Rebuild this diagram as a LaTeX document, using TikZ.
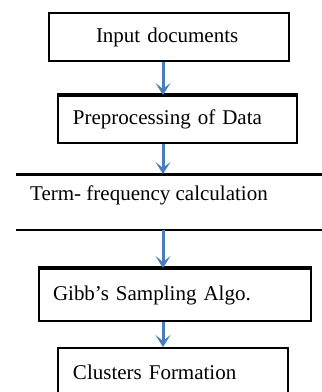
\documentclass[tikz,border=0pt]{standalone}
\usepackage{fontspec}
\setmainfont{Liberation Serif}
\usetikzlibrary{arrows.meta}
\definecolor{flowblue}{HTML}{4A7EBB}
\begin{document}
\begin{tikzpicture}[x=1pt,y=-1pt,
        every node/.style={font=\fontsize{21}{25}\selectfont},
        stage/.style={draw,line width=2pt,align=left,text height=14pt,text depth=4pt},
        flow/.style={draw=flowblue,line width=3pt,
          -{Stealth[length=12pt,width=15pt,inset=6pt]}}]
      \useasboundingbox (0,0) rectangle (322,392);
      \coordinate (ax) at (163,0);                 % arrow column
      \node[stage,anchor=north west,minimum height=48pt,inner xsep=47pt,text width=146pt]
        (input) at (48,12) {Input documents};
      \node[stage,anchor=north west,minimum height=47pt,inner xsep=15pt,text width=209pt]
        (prep) at (57,95) {Preprocessing of Data};
      \draw[line width=3.5pt] (prep.north west) -- (prep.north east);
      % term-frequency band
      \coordinate (tfA) at (16,174);
      \coordinate (tfB) at (322,174);
      \coordinate (tfC) at (16,230);
      \coordinate (tfD) at (322,230);
      \draw[line width=3pt] (tfA) -- (tfB);
      \draw[line width=2pt] (tfC) -- (tfD);
      \node[anchor=base west,inner sep=0pt] (tf) at (30,200) {Term- frequency calculation};
      \node[stage,anchor=north west,minimum height=52pt,inner xsep=14pt,text width=244pt]
        (gibbs) at (38,268) {Gibb's Sampling Algo.};
      \draw[line width=3.5pt] (gibbs.north west) -- (gibbs.north east);
      \node[stage,anchor=north west,minimum height=52pt,inner xsep=15pt,text width=200pt,
        text height=20pt,text depth=10pt] (clusters) at (57,347) {Clusters Formation};
      % arrows
      \draw[flow] (input.south -| ax) -- (prep.north -| ax);
      \draw[flow] (prep.south -| ax) -- (tfA -| ax);
      \draw[flow] (tfC -| ax) -- (gibbs.north -| ax);
      \draw[flow] (gibbs.south -| ax) -- (clusters.north -| ax);
\end{tikzpicture}
\end{document}
